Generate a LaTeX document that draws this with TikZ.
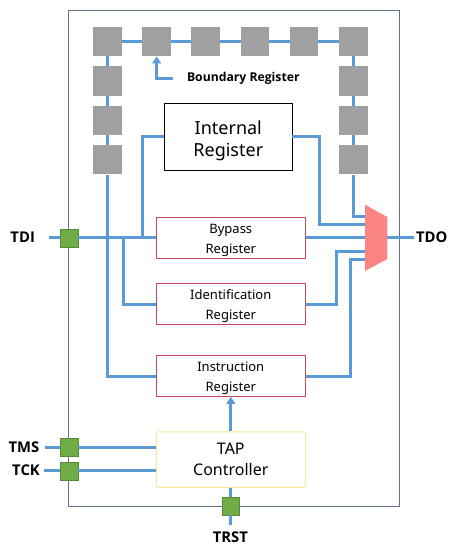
\documentclass[tikz,border=0pt]{standalone}
\usepackage{fontspec}
\setmainfont{Noto Sans}
\newfontfamily\pinfont{Open Sans}
\usetikzlibrary{arrows.meta}
\definecolor{wireblue}{HTML}{5B9BD5}
\definecolor{cellgray}{HTML}{A0A0A0}
\definecolor{pingreen}{HTML}{70AD47}
\definecolor{muxred}{HTML}{FB8585}
\definecolor{regred}{HTML}{C8465A}
\definecolor{tapyellow}{HTML}{F6E7A0}
\definecolor{chipblue}{HTML}{5F6F90}

\begin{document}
\begin{tikzpicture}[x=1pt,y=1pt,
		wire/.style={draw=wireblue,line width=3pt},
		arrowwire/.style={wire,-{Triangle[width=9pt,length=7pt]}},
		cell/.style={fill=cellgray,minimum width=28.5pt,minimum height=29.5pt,inner sep=0pt},
		pin/.style={fill=pingreen,draw=pingreen!80!black,line width=0.4pt,minimum width=17.5pt,minimum height=18pt,inner sep=0pt},
		reg/.style={draw=regred,line width=0.8pt,fill=white,minimum width=149pt,minimum height=41pt,inner sep=0pt,align=center,font=\fontsize{13}{20}\selectfont},
		pinlabel/.style={inner sep=0pt,font=\pinfont\fontsize{14.8}{16}\selectfont\bfseries}]
		\useasboundingbox (0,0) rectangle (449,-545);
		\node (chip) [draw=chipblue,line width=0.8pt,minimum width=330.5pt,minimum height=496pt,inner sep=0pt] at (233.8,-258.6) {};
		% boundary cells
		\node (bsa) [cell] at (107.7,-41.5) {};
		\node (bsb) [cell] at (156.7,-41.5) {};
		\node (bsc) [cell] at (205.7,-41.5) {};
		\node (bsd) [cell] at (255,-41.5) {};
		\node (bse) [cell] at (304,-41.5) {};
		\node (bsf) [cell] at (353.3,-41.5) {};
		\node (lsa) [cell] at (107.7,-81) {};
		\node (lsb) [cell] at (107.7,-120.5) {};
		\node (lsc) [cell] at (107.7,-159.6) {};
		\node (rsa) [cell] at (353.3,-81) {};
		\node (rsb) [cell] at (353.3,-120.5) {};
		\node (rsc) [cell] at (353.3,-159.6) {};
		\node (bslabel) [inner sep=0pt,font=\pinfont\fontsize{12.2}{14}\selectfont\bfseries] at (243.3,-78.5) {Boundary Register};
		% registers
		\node (intreg) [draw=black,line width=0.7pt,minimum width=127.5pt,minimum height=67pt,inner sep=0pt,align=center,font=\fontsize{18}{22}\selectfont] at (228.3,-136.7) {\rule{0pt}{21pt}Internal\\Register};
		\node (bypass) [reg] at (230.8,-237.7) {\rule{0pt}{14pt}Bypass\\Register};
		\node (idreg) [reg] at (230.8,-304) {\rule{0pt}{14pt}Identification\\Register};
		\node (irreg) [reg] at (230.8,-376) {\rule{0pt}{14pt}Instruction\\Register};
		\node (tap) [draw=tapyellow,line width=0.9pt,rounded corners=1pt,minimum width=149pt,minimum height=55.5pt,inner sep=0pt,align=center,font=\fontsize{16}{21}\selectfont] at (230.8,-459.6) {TAP\\Controller};
		% pins
		\node (tdipin) [pin] at (69,-237.7) {};
		\node (tmspin) [pin] at (69,-447.3) {};
		\node (tckpin) [pin] at (69,-470.7) {};
		\node (trstpin) [pin] at (230.8,-506) {};
		\node (tdi) [pinlabel] at (22.7,-237) {TDI};
		\node (tms) [pinlabel] at (24,-447) {TMS};
		\node (tck) [pinlabel] at (26,-470) {TCK};
		\node (trst) [pinlabel] at (230.3,-537) {TRST};
		\node (tdo) [pinlabel] at (431.7,-237) {TDO};
		% free wire ends
		\coordinate (tdiend) at (49,-237.7);
		\coordinate (tmsend) at (45,-447.3);
		\coordinate (tckend) at (44,-470.7);
		\coordinate (trstend) at (230.8,-525);
		\coordinate (tdoend) at (414,-237.7);
		\coordinate (bsstart) at (172.7,-78.5);
		\coordinate (muxa) at (365,-204.7);
		\coordinate (muxb) at (387.3,-217);
		\coordinate (muxc) at (387.3,-259);
		\coordinate (muxd) at (365,-271);
		\coordinate (muxin1) at (365,-216);
		\coordinate (muxin2) at (365,-224);
		\coordinate (muxin3) at (365,-237.7);
		\coordinate (muxin4) at (365,-251);
		\coordinate (muxin5) at (365,-259.3);
		\coordinate (muxout) at (387.3,-237.7);
		\coordinate (intleft) at (142.3,-136.7);
		\coordinate (intright) at (319.3,-136.7);
		\coordinate (idleft) at (123.3,-304);
		\coordinate (idright) at (336.7,-304);
		\coordinate (irright) at (350.7,-376);
		% boundary chain
		\draw [wire] (bsa) -- (bsb);
		\draw [wire] (bsb) -- (bsc);
		\draw [wire] (bsc) -- (bsd);
		\draw [wire] (bsd) -- (bse);
		\draw [wire] (bse) -- (bsf);
		\draw [wire] (bsa) -- (lsa);
		\draw [wire] (lsa) -- (lsb);
		\draw [wire] (lsb) -- (lsc);
		\draw [wire] (bsf) -- (rsa);
		\draw [wire] (rsa) -- (rsb);
		\draw [wire] (rsb) -- (rsc);
		\draw [arrowwire] (bsstart) -| (bsb.south);
		% inputs
		\draw [wire] (tdiend) -- (tdipin);
		\draw [wire] (tdipin) -- (bypass);
		\draw [wire] (intreg.west) -- (intleft) -- (intleft |- bypass.west);
		\draw [wire] (idleft |- bypass.west) -- (idleft) -- (idreg.west);
		\draw [wire] (lsc.south) |- (irreg.west);
		\draw [wire] (tmsend) -- (tmspin);
		\draw [wire] (tmspin) -- (tmspin -| tap.west);
		\draw [wire] (tckend) -- (tckpin);
		\draw [wire] (tckpin) -- (tckpin -| tap.west);
		\draw [wire] (tap.south) -- (trstpin);
		\draw [wire] (trstpin) -- (trstend);
		\draw [arrowwire] (tap.north) -- (irreg.south);
		% mux inputs
		\draw [wire] (rsc.south) |- (muxin1);
		\draw [wire] (intreg.east) -- (intright) |- (muxin2);
		\draw [wire] (bypass.east) -- (muxin3);
		\draw [wire] (idreg.east) -- (idright) |- (muxin4);
		\draw [wire] (irreg.east) -- (irright) |- (muxin5);
		\draw [wire] (muxout) -- (tdoend);
		\fill [muxred] (muxa) -- (muxb) -- (muxc) -- (muxd) -- cycle;
	\end{tikzpicture}
\end{document}
